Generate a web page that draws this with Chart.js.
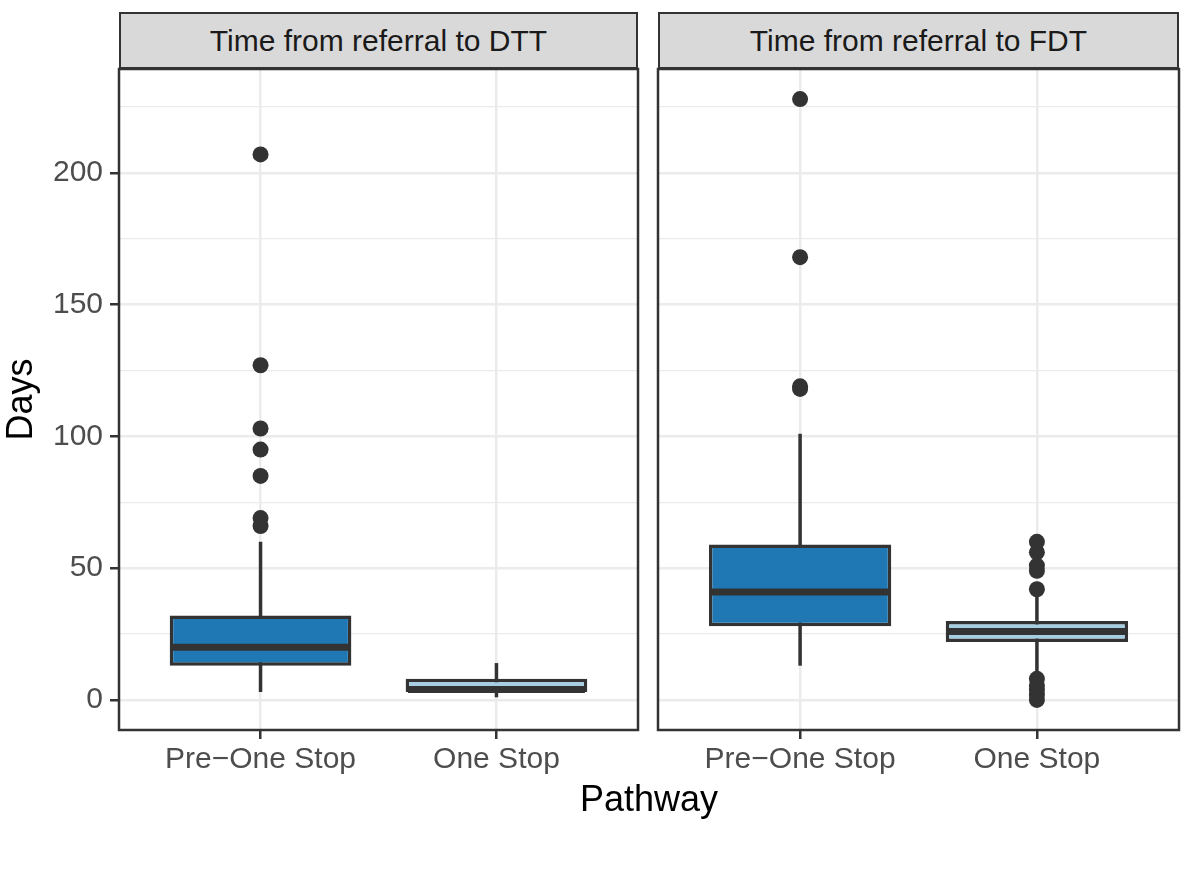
<html>
<head>
<script src="https://cdn.jsdelivr.net/npm/chart.js@4.4.1/dist/chart.umd.min.js"></script>
<style>
  html, body { margin:0; padding:0; background:#fff; font-family:"Liberation Sans", Arial, sans-serif; }
  #wrap { position:relative; width:1200px; height:888px; }
  .strip { position:absolute; top:12px; height:57px; box-sizing:border-box; border:2px solid #333;
           background:#d9d9d9; color:#1a1a1a; font-size:30px; line-height:53px; text-align:center; }
  .box { position:absolute; top:0; height:888px; }
  #xtitle { position:absolute; left:119px; width:1060px; top:781px; font-size:36px; line-height:36px;
            text-align:center; color:#000; }
</style>

<script type="text/javascript">

var categories = ["Pre\u2212One Stop", "One Stop"];
var panelTitles = ["Time from referral to DTT", "Time from referral to FDT"];
var yTicks = [0, 25, 50, 75, 100, 125, 150, 175, 200, 225];

// referral to DTT
var dttLow    = [3, 1];
var dttQ1     = [13, 3];
var dttMedian = [20, 4];
var dttQ3     = [32, 8];
var dttHigh   = [60, 14];
var dttOutPre = [207, 127, 103, 95, 85, 69, 66];
var dttOutOne = [];

// referral to FDT
var fdtLow    = [13, 10];
var fdtQ1     = [28, 22];
var fdtMedian = [41, 26];
var fdtQ3     = [59, 30];
var fdtHigh   = [101, 40];
var fdtOutPre = [228, 168, 119, 118];
var fdtOutOne = [60, 56, 51, 49, 42, 8, 5.5, 4, 2, 0];

var fills = ["#1f78b4", "#a6cee3"];
var ink = "#333333";
var boxHalf = 0.375;

function buildDatasets(low, q1, med, q3, high, outliers) {
  var sets = [];
  var boxes = [];
  for (var i = 0; i < categories.length; i++) {
    var x = i + 1;
    boxes.push({x: x, y: [q1[i], q3[i]]});
    sets.push({
      type: 'line', order: 4, data: [{x: x, y: low[i]}, {x: x, y: high[i]}],
      borderColor: ink, borderWidth: 3.5, pointRadius: 0, borderCapStyle: 'butt'
    });
    sets.push({
      type: 'line', order: 2, data: [{x: x - boxHalf, y: med[i]}, {x: x + boxHalf, y: med[i]}],
      borderColor: ink, borderWidth: 7, pointRadius: 0, borderCapStyle: 'butt'
    });
    sets.push({
      type: 'scatter', order: 1,
      data: outliers[i].map(function (v) { return {x: x, y: v}; }),
      backgroundColor: ink, borderColor: ink, pointRadius: 8, borderWidth: 0
    });
  }
  sets.push({
    type: 'bar', order: 3, data: boxes,
    backgroundColor: fills, borderColor: ink, borderWidth: 3.5, borderSkipped: false,
    categoryPercentage: 1, barPercentage: 0.77
  });
  return sets;
}

var panelBorder = {
  id: 'panelBorder',
  afterDatasetsDraw: function (chart) {
    var a = chart.chartArea, c = chart.ctx;
    c.save();
    c.strokeStyle = ink;
    c.lineWidth = 2.5;
    c.strokeRect(a.left, a.top, a.right - a.left, a.bottom - a.top);
    c.restore();
  }
};

function makePanel(id, datasets, showY, pad) {
  var ctx = document.getElementById(id);
  return new Chart(ctx, {
    type: 'bar',
    data: { datasets: datasets },
    plugins: [panelBorder],
    options: {
      responsive: false,
      animation: false,
      layout: { padding: pad },
      plugins: { legend: { display: false }, tooltip: { enabled: false } },
      scales: {
        x: {
          type: 'linear', min: 0.4, max: 2.6, offset: false,
          afterBuildTicks: function (s) { s.ticks = categories.map(function (c, i) { return {value: i + 1}; }); },
          afterFit: function (s) { s.height = 90; },
          ticks: {
            callback: function (v) { return categories[v - 1]; },
            color: '#4d4d4d', font: { size: 30 }, padding: 3, maxRotation: 0, autoSkip: false
          },
          grid: { offset: false, color: '#ebebeb', lineWidth: 2.5, tickColor: ink, tickLength: 9, tickWidth: 2.5 },
          border: { display: false }
        },
        y: {
          min: -11.4, max: 239.4,
          afterBuildTicks: function (s) { s.ticks = yTicks.map(function (v) { return {value: v}; }); },
          afterFit: function (s) { s.width = showY ? 119 : 0; },
          ticks: {
            display: showY,
            callback: function (v) { return v % 50 === 0 ? v : ''; },
            color: '#4d4d4d', font: { size: 30 }, padding: 7
          },
          grid: {
            color: '#ebebeb',
            lineWidth: function (c) { return c.tick && c.tick.value % 50 === 0 ? 2.5 : 1.3; },
            drawTicks: showY,
            tickLength: 9,
            tickWidth: 2.5,
            tickColor: function (c) { return c.tick && c.tick.value % 50 === 0 ? ink : 'rgba(0,0,0,0)'; }
          },
          border: { display: false },
          title: { display: showY, text: 'Days', color: '#000', font: { size: 36 }, padding: { top: 0, bottom: 0 } }
        }
      }
    }
  });
}

function init() {
  makePanel('left', buildDatasets(dttLow, dttQ1, dttMedian, dttQ3, dttHigh, [dttOutPre, dttOutOne]), true,
    { top: 69, bottom: 68, left: 0, right: 10 });
  makePanel('right', buildDatasets(fdtLow, fdtQ1, fdtMedian, fdtQ3, fdtHigh, [fdtOutPre, fdtOutOne]), false,
    { top: 69, bottom: 68, left: 10, right: 21 });
  document.getElementById('s0').textContent = panelTitles[0];
  document.getElementById('s1').textContent = panelTitles[1];
}

</script>
</head>

<body onLoad="init()">
<div id="wrap">
  <div class="box" style="left:0;width:648px"><canvas id="left" width="648" height="888"></canvas></div>
  <div class="box" style="left:648px;width:552px"><canvas id="right" width="552" height="888"></canvas></div>
  <div class="strip" id="s0" style="left:119px;width:519px"></div>
  <div class="strip" id="s1" style="left:658px;width:521px"></div>
  <div id="xtitle">Pathway</div>
</div>
</body>
</html>
